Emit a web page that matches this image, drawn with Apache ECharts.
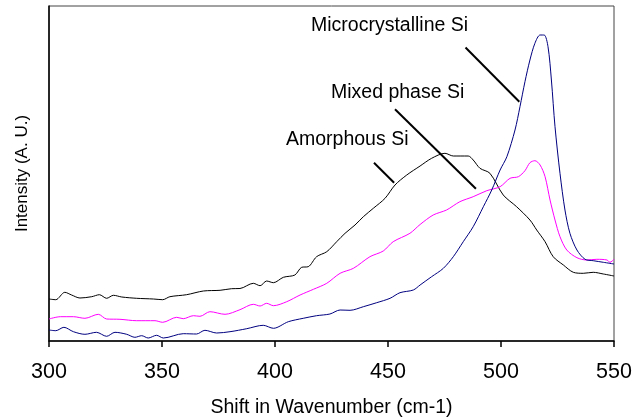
<!DOCTYPE html>
<html>
<head>
<meta charset="utf-8">
<script src="https://cdn.jsdelivr.net/npm/echarts@6/dist/echarts.min.js"></script>
<style>
  html, body { margin: 0; padding: 0; background: #fff; }
  #chart { width: 633px; height: 417px; }
</style>
</head>
<body>
<div id="chart"></div>
<script>
// Raman spectra (intensity in arbitrary units)
const xTicks = [300, 350, 400, 450, 500, 550];

const amorphousX = [300, 303, 307, 310, 313.7, 318.9, 322.3, 325.5, 328.5, 332.2, 338.8, 346.2, 350.3, 353.5, 360.9, 368.3, 375.7, 380.8, 384.5, 390.4, 393.4, 396.3, 399.3, 403.7, 408.8, 411.8, 414.7, 418.4, 422.9, 427.3, 431, 435.4, 439.1, 443.5, 448.7, 453.1, 458.3, 464.2, 469.3, 475.2, 478.9, 485.5, 487.7, 490.7, 495.1, 501, 506.9, 512.8, 515.8, 519.5, 523.1, 527.6, 532, 536.4, 540.8, 545.3, 550];
const amorphousY = [42, 41.3, 48.7, 46, 43, 44.3, 46.3, 42.7, 45.7, 44, 42.7, 42, 41.3, 44.3, 46.3, 50, 50.7, 52.3, 52.5, 57.7, 55.3, 60, 58.3, 63.7, 66, 73.7, 74.3, 84.3, 89.3, 99.3, 107.7, 116, 124.3, 132.7, 142.7, 156, 166, 175, 182.7, 187.7, 185, 185, 181, 172.7, 167.7, 146, 134.3, 121, 111, 99.3, 84.3, 76, 68.7, 67.7, 68.7, 67, 65];

const mixedX = [300, 305, 310.8, 315.9, 321.8, 325.5, 331.4, 338.8, 346.9, 350.3, 356.5, 359.4, 363.9, 366.8, 371.2, 377.9, 384.5, 390.4, 393.4, 396.3, 399.3, 405.2, 411.1, 417, 422.9, 428.8, 434.7, 442, 447.9, 452.3, 459.7, 464.2, 470, 475.9, 481.8, 487.7, 493.7, 499.6, 504, 507.7, 510.6, 512.8, 515, 517.3, 519.5, 521.7, 523.9, 526.1, 529.1, 533.6, 538, 542.4, 546.9, 548.2, 550];
const mixedY = [22, 24.3, 24.3, 22.7, 26.7, 22, 21.7, 20.3, 20.3, 18.7, 23.7, 22.3, 25.3, 24.7, 29.3, 26.7, 31.3, 36.7, 35, 37.7, 35.3, 39.3, 46, 51.7, 57.7, 67.7, 72.7, 84.3, 90, 99.3, 107.7, 116.5, 126, 131, 139.3, 144.3, 150.3, 154.3, 162.7, 164.3, 170.3, 178.3, 180.3, 176, 164.3, 141, 121, 104.3, 91, 83.3, 81, 81.7, 81, 78.7, 81.7];

const microX = [300, 303, 306.6, 310.8, 315.9, 321, 325.5, 329.2, 334.4, 338, 341, 343.9, 347.6, 350.6, 359.4, 365.3, 369, 374.2, 380.1, 387.5, 394.8, 399.3, 405.9, 412.5, 418.4, 424.3, 428.8, 433.2, 439.1, 445, 450.9, 455.3, 461.2, 464.2, 469.3, 474.5, 478.9, 483.3, 487.7, 492.2, 495.9, 499.6, 502.6, 506.2, 508.4, 510.6, 512.8, 515, 517.3, 519.1, 520.8, 522.3, 523.9, 526.1, 528.3, 530.5, 533.6, 537.2, 540.8, 545.3, 550];
const microY = [11, 10.3, 13.7, 9.3, 6.7, 8.7, 4.7, 8.7, 6.7, 3.7, 5.3, 3, 5.7, 3, 7.3, 7, 10.7, 8, 9.3, 12.3, 15.7, 12.7, 19.3, 22.7, 25.3, 27, 31, 30.7, 34.3, 38.3, 42.7, 48.3, 51, 56, 64.3, 72.7, 84.3, 99.3, 114.3, 134.3, 151, 171, 184.3, 211, 234.3, 259.3, 281, 297.7, 306, 306, 294.3, 261, 214.3, 167.7, 131, 107.7, 91, 81.7, 80.3, 78.7, 77];

// leader lines from each label to its curve, in data units
const leaders = [
  [[484.3, 293.5], [508.1, 239.3]],
  [[453.1, 231.7], [488.9, 152.2]],
  [[443.8, 178.3], [452.7, 158.3]],
];

const zip = (xs, ys) => xs.map((x, i) => [x, ys[i]]);
const font = "'Liberation Sans', Arial, sans-serif";

const chart = echarts.init(document.getElementById("chart"), null, { renderer: "canvas" });

chart.setOption({
  animation: false,
  backgroundColor: "#fff",
  textStyle: { fontFamily: font },
  grid: {
    left: 49, right: 19, top: 6, bottom: 76,
    outerBoundsMode: "none",
    containLabel: false,
    show: true, borderColor: "#444", borderWidth: 1,
  },
  xAxis: {
    type: "value",
    min: xTicks[0],
    max: xTicks[xTicks.length - 1],
    interval: 50,
    name: "Shift in Wavenumber (cm-1)",
    nameLocation: "middle",
    nameGap: 57,
    nameTextStyle: { color: "#000", fontSize: 19.5, fontFamily: font },
    axisLine: { show: true, lineStyle: { color: "#000", width: 1.5 } },
    axisTick: { show: true, inside: false, length: 6, lineStyle: { color: "#000", width: 1.5 } },
    axisLabel: { color: "#000", fontSize: 21.5, margin: 20, fontFamily: font },
    splitLine: { show: false },
  },
  yAxis: {
    type: "value",
    min: 0,
    max: 335,
    name: "Intensity (A. U.)",
    nameLocation: "middle",
    nameGap: 18,
    nameTextStyle: { color: "#000", fontSize: 17, fontFamily: font },
    axisLine: { show: true, lineStyle: { color: "#000", width: 1.5 } },
    axisTick: { show: false },
    axisLabel: { show: false },
    splitLine: { show: false },
  },
  graphic: [
    { type: "text", left: 311, top: 16, style: { text: "Microcrystalline Si", fill: "#000", font: "19.5px " + font } },
    { type: "text", left: 331, top: 83, style: { text: "Mixed phase Si", fill: "#000", font: "19.5px " + font } },
    { type: "text", left: 286, top: 130, style: { text: "Amorphous Si", fill: "#000", font: "19.5px " + font } },
  ],
  series: [
    {
      name: "Amorphous Si",
      type: "line",
      data: zip(amorphousX, amorphousY),
      showSymbol: false,
      smooth: 0.3,
      lineStyle: { color: "#000", width: 1 },
      markLine: {
        silent: true,
        symbol: ["none", "none"],
        label: { show: false },
        lineStyle: { color: "#000", width: 2, type: "solid" },
        data: leaders.map(([a, b]) => [{ coord: a }, { coord: b }]),
      },
    },
    {
      name: "Mixed phase Si",
      type: "line",
      data: zip(mixedX, mixedY),
      showSymbol: false,
      smooth: 0.3,
      lineStyle: { color: "#ff00ff", width: 1 },
    },
    {
      name: "Microcrystalline Si",
      type: "line",
      data: zip(microX, microY),
      showSymbol: false,
      smooth: 0.3,
      lineStyle: { color: "#000080", width: 1 },
    },
  ],
});
</script>
</body>
</html>
